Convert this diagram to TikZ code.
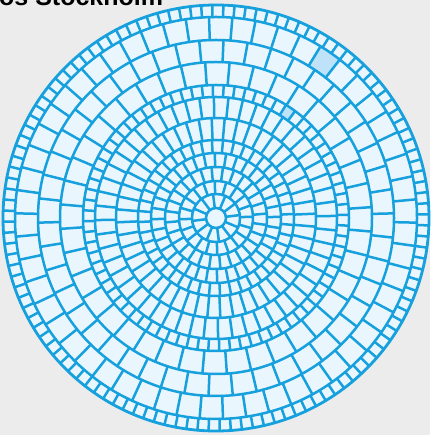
\documentclass[tikz,border=0pt]{standalone}
\usepackage{fontspec}
\setmainfont{Liberation Sans}
\definecolor{bgc}{RGB}{236,236,236}
\definecolor{lnc}{RGB}{22,160,221}
\definecolor{cellc}{RGB}{234,246,253}
\definecolor{hic}{RGB}{190,227,248}
\tikzset{
  ln/.style={draw=lnc,line width=2.5pt,line cap=round},
  title/.style={font=\fontsize{25}{25}\selectfont\bfseries,text=black,inner sep=0pt,anchor=base west}
}
\begin{document}
\begin{tikzpicture}[x=1pt,y=1pt]
\useasboundingbox (0,0) rectangle (430,435);
\fill[bgc] (0,0) rectangle (430,435);
\node[title] (ttl) at (-1,429.5) {os Stockholm};
\coordinate (c) at (216,217);
\fill[cellc] (c) circle (213);
% highlighted cells
\fill[hic,shift={(c)}] (52:178) arc (52:58.67:178) -- (58.67:201) arc (58.67:52:201) -- cycle;
\fill[hic,shift={(c)}] (53.5:121) arc (53.5:58.24:121) -- (58.24:133) arc (58.24:53.5:133) -- cycle;
% rings
\foreach \r in {10,24,37,51,65,78,100,121,133,156,178,201}
  \draw[ln] (c) circle (\r);
\draw[ln,line width=2.8pt] (c) circle (213);
% spokes
\foreach \ra/\rb/\n/\o in {10/24/12/7, 24/37/20/2, 37/51/28/5, 51/65/36/1, 65/78/44/3,
  78/100/48/2.5, 100/121/52/1, 121/133/76/1.4, 133/156/40/4, 156/178/46/1.5,
  178/201/54/5.33, 201/213/120/1}{
  \foreach \k in {1,...,\n}{
    \pgfmathsetmacro\ang{\o+\k*(360/\n)}
    \draw[ln,shift={(c)}] (\ang:\ra) -- (\ang:\rb);
  }
}
\end{tikzpicture}
\end{document}
